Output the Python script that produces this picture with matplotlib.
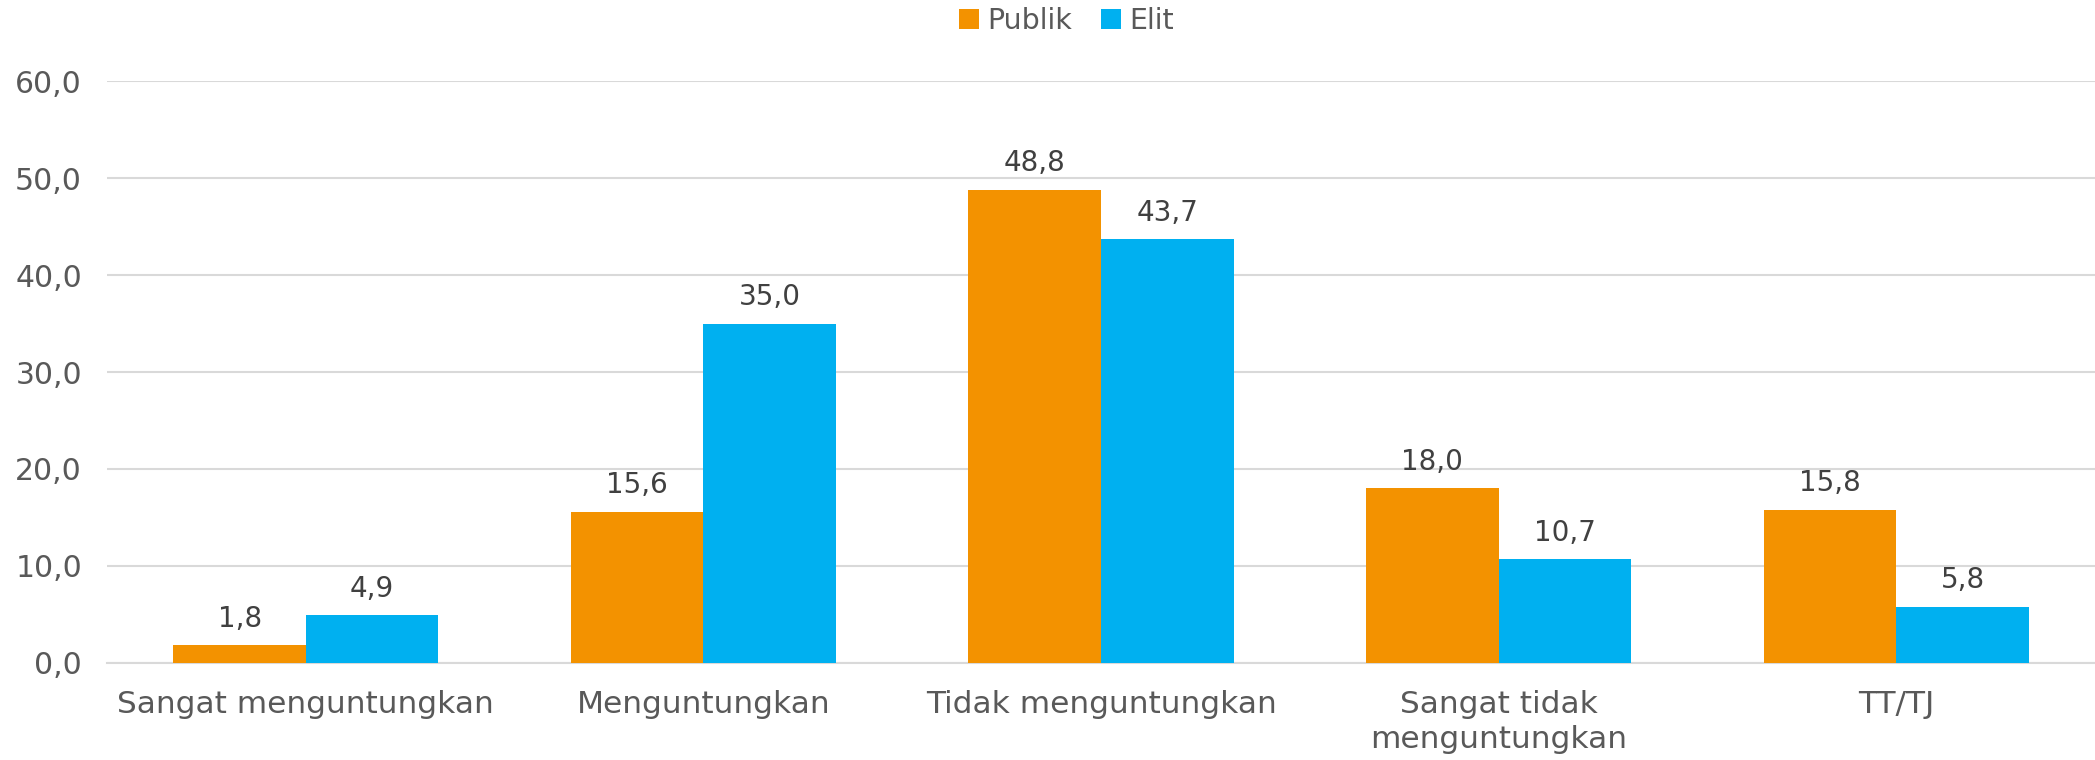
import matplotlib.pyplot as plt
import numpy as np

# Data
categories = ["Sangat menguntungkan", "Menguntungkan", "Tidak menguntungkan",
              "Sangat tidak\nmenguntungkan", "TT/TJ"]
publik = [1.8, 15.6, 48.8, 18.0, 15.8]
elit = [4.9, 35.0, 43.7, 10.7, 5.8]
yticks = [0, 10, 20, 30, 40, 50, 60]

orange = '#F39200'
blue = '#00B0F0'
text_col = '#595959'

plt.rcParams['font.family'] = ['DejaVu Sans']

fig = plt.figure(figsize=(20.95, 7.6), dpi=100)
ax = fig.add_axes([0.0511, 0.128, 0.9489, 0.765])

x = np.arange(len(categories))
w = 1 / 3
b1 = ax.bar(x - w / 2, publik, w, color=orange, label='Publik', zorder=3)
b2 = ax.bar(x + w / 2, elit, w, color=blue, label='Elit', zorder=3)

# data labels
for bars in (b1, b2):
    for rect in bars:
        h = rect.get_height()
        ax.annotate(f"{h:.1f}".replace('.', ','),
                    (rect.get_x() + rect.get_width() / 2, h),
                    xytext=(0, 9), textcoords='offset points',
                    ha='center', va='bottom', fontsize=20, color='#404040')

ax.set_xlim(-0.5, len(categories) - 0.5)
ax.set_ylim(0, 60)
ax.set_yticks(yticks)
ax.set_yticklabels([f"{v:.1f}".replace('.', ',') for v in yticks])
ax.set_xticks(x)
ax.set_xticklabels(categories, linespacing=1.25)
ax.tick_params(axis='both', length=0, colors=text_col)
ax.tick_params(axis='y', pad=18, labelsize=21.5)
ax.tick_params(axis='x', pad=20, labelsize=22.5)

ax.grid(axis='y', color='#D9D9D9', linewidth=1.5, zorder=0)
for s in ['top', 'right', 'left']:
    ax.spines[s].set_visible(False)
ax.spines['bottom'].set_color('#D9D9D9')
ax.spines['bottom'].set_linewidth(1.5)

fig.legend(loc='upper center', bbox_to_anchor=(0.509, 1.025), ncol=2,
           frameon=False, fontsize=20.5, handlelength=0.7, handleheight=0.7,
           handletextpad=0.3, columnspacing=1.0, labelcolor=text_col)

plt.savefig('out.png', dpi=100)
